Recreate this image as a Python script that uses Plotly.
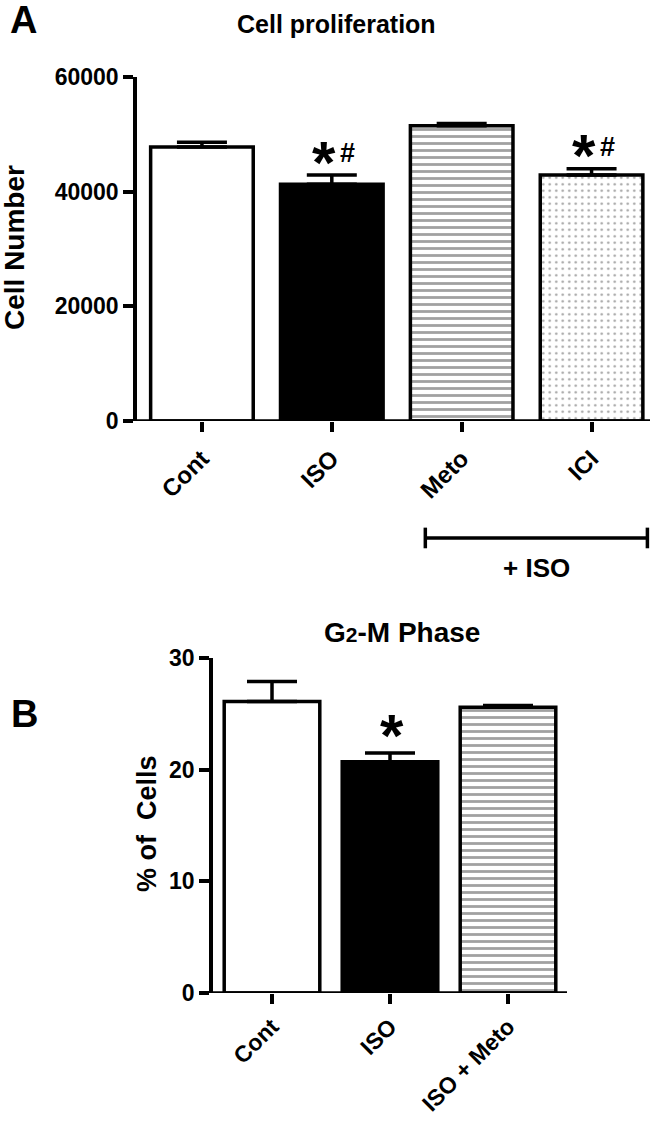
import plotly.graph_objects as go

# ── data ────────────────────────────────────────────────────────────────
# Panel A: cell proliferation
cats_a = ["Cont", "ISO", "Meto", "ICI"]
cells_a = [47800, 41300, 51500, 42900]
err_a = [800, 1600, 400, 1100]
fill_a = ["white", "black", "white", "white"]
pattern_a = ["", "", "-", "."]
sig_a = ["", "*#", "", "*#"]
ticks_a = [0, 20000, 40000, 60000]

# Panel B: G2-M phase
cats_b = ["Cont", "ISO", "ISO + Meto"]
pct_b = [26.1, 20.7, 25.6]
err_b = [1.8, 0.8, 0.15]
fill_b = ["white", "black", "white"]
pattern_b = ["", "", "-"]
sig_b = ["", "*", ""]
ticks_b = [0, 10, 20, 30]

W, H = 655, 1121
FONT = "Liberation Sans, Arial, sans-serif"
LW = 3.5


def px_x(p):
    return p / W


def px_y(p):
    return 1 - p / H


def bars(cats, vals, errs, fills, pats, xa, ya, width):
    n = len(cats)
    return go.Bar(
        x=cats, y=vals, width=width, xaxis=xa, yaxis=ya, showlegend=False,
        hoverinfo="skip",
        marker=dict(
            color=fills,
            line=dict(color="black", width=LW),
            pattern=dict(
                shape=pats,
                fgcolor="black",
                size=[7 if p == "-" else 6.5 for p in pats],
                solidity=[0.4 if p == "-" else 0.12 for p in pats],
            ),
        ),
        error_y=dict(
            type="data", symmetric=False, array=errs, arrayminus=[0] * n,
            color="black", thickness=LW, width=25,
        ),
    )


fig = go.Figure()
fig.add_trace(bars(cats_a, cells_a, err_a, fill_a, pattern_a, "x", "y", 0.79))
fig.add_trace(bars(cats_b, pct_b, err_b, fill_b, pattern_b, "x2", "y2", 0.81))

yax = dict(
    showline=True, linecolor="black", linewidth=LW, ticks="outside",
    ticklen=10, tickwidth=LW, tickcolor="black", showgrid=False,
    zeroline=False, automargin=False,
    tickfont=dict(family=FONT, size=23, color="black", weight="bold"),
)
xax = dict(
    showline=False, ticks="outside", ticklen=10, tickwidth=LW,
    tickcolor="black", showgrid=False, zeroline=False, tickangle=-45,
    automargin=False,
)

fig.update_layout(
    width=W, height=H,
    margin=dict(l=0, r=0, t=0, b=0, autoexpand=False),
    paper_bgcolor="white", plot_bgcolor="white",
    font=dict(family=FONT, color="black"),
    xaxis=dict(xax, domain=[px_x(137), px_x(650)], range=[-0.5, 3.45], anchor="y",
               ticklabelstandoff=3,
               tickfont=dict(family=FONT, size=24, color="black", weight="bold")),
    yaxis=dict(yax, domain=[px_y(421), px_y(77)], range=[0, 60000],
               tickvals=ticks_a, ticktext=[str(t) for t in ticks_a], anchor="x"),
    xaxis2=dict(xax, domain=[px_x(213), px_x(567)], range=[-0.5, 2.5], anchor="y2",
                ticklabelstandoff=0,
                tickfont=dict(family=FONT, size=23, color="black", weight="bold")),
    yaxis2=dict(yax, domain=[px_y(993), px_y(658)], range=[0, 30],
                tickvals=ticks_b, ticktext=[str(t) for t in ticks_b], anchor="x2"),
)

# x-axis baselines (extend left past the y-axis like the original)
for xr, yr, x0 in [("x domain", "y", -10 / 513), ("x2 domain", "y2", -10 / 354)]:
    fig.add_shape(type="line", xref=xr, yref=yr, x0=x0, x1=1, y0=0, y1=0,
                  line=dict(color="black", width=LW))

# bracket under Meto / ICI
fig.add_shape(type="line", xref="x", yref="y domain", x0=1.72, x1=3.43,
              y0=-0.34, y1=-0.34, line=dict(color="black", width=LW))
for xb in (1.72, 3.43):
    fig.add_shape(type="line", xref="x", yref="y domain", x0=xb, x1=xb,
                  y0=-0.31, y1=-0.37, line=dict(color="black", width=LW))

ann = []


def txt(text, x, y, size, xref="paper", yref="paper", **kw):
    ann.append(dict(text=text, x=x, y=y, xref=xref, yref=yref, showarrow=False,
                    xanchor="center", yanchor="middle",
                    font=dict(family=FONT, size=size, color="black", weight="bold"),
                    **kw))


txt("A", px_x(23), px_y(20), 38)
txt("Cell proliferation", px_x(336), px_y(24), 25)
txt("Cell Number", px_x(14), px_y(248), 28, textangle=-90)
txt("+ ISO", 2.575, -0.427, 26, xref="x", yref="y domain")

txt("B", px_x(24), px_y(714), 38)
txt("G<span style='font-size:21px'>2</span>-M Phase", px_x(402), px_y(632), 28)
txt("% of\u00a0 Cells", px_x(147), px_y(824), 27, textangle=-90)

# significance marks
for cats, vals, errs, sigs, xr, yr in [
    (cats_a, cells_a, err_a, sig_a, "x", "y"),
    (cats_b, pct_b, err_b, sig_b, "x2", "y2"),
]:
    for c, v, e, s in zip(cats, vals, errs, sigs):
        if not s:
            continue
        if "#" in s:
            txt("*", c, v + e, 60, xref=xr, yref=yr, xshift=-8, yshift=13)
            txt("#", c, v + e, 27, xref=xr, yref=yr, xshift=16, yshift=22)
        else:
            txt("*", c, v + e, 60, xref=xr, yref=yr, xshift=2, yshift=17)

fig.update_layout(annotations=ann)
# browser default body margin would shift the 655x1121 figure by 8px
fig.write_html("out.html", config={"displayModeBar": False},
               post_script="document.body.style.margin='0';")
